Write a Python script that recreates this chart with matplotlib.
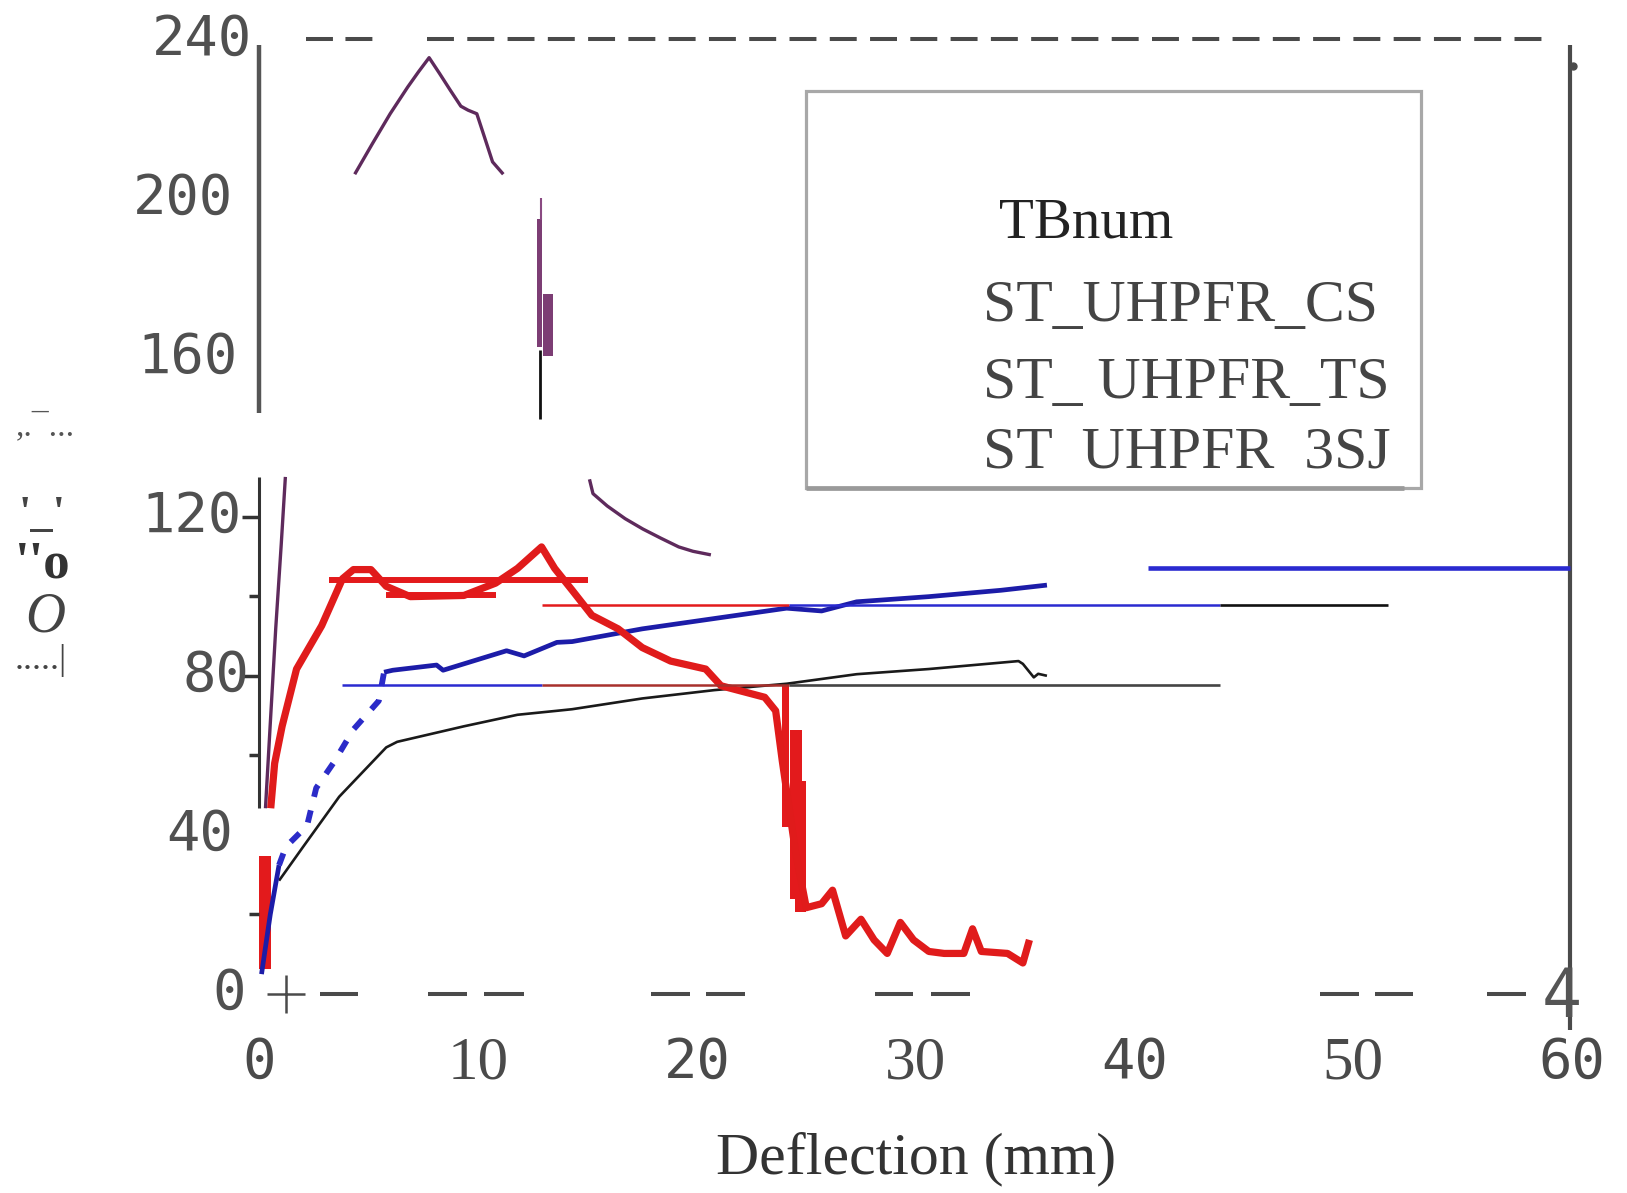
import matplotlib
matplotlib.use("Agg")
import matplotlib.pyplot as plt
import numpy as np
from matplotlib.patches import Rectangle

plt.rcParams["lines.scale_dashes"] = False
plt.rcParams["lines.solid_capstyle"] = "butt"

# ---- data (deflection mm, load kN) ----
red_x = [0.52, 0.7, 1.04, 1.7, 2.85, 3.8, 4.3, 5.1, 5.8, 6.9, 9.35, 10.8, 11.8, 12.9, 13.5,
         14.3, 15.2, 16.4, 17.5, 18.8, 20.4, 21.1, 23.1, 23.6, 23.9, 24.5, 25.0, 25.7, 26.2,
         26.8, 27.5, 28.1, 28.7, 29.3, 29.9, 30.6, 31.3, 32.2, 32.6, 33.0, 34.2, 34.9, 35.2]
red_y = [46.7, 58, 67.3, 81.7, 92.6, 104.4, 106.7, 106.7, 102.5, 99.9, 100.2, 103.3, 107, 112.4, 107,
         101.5, 95.2, 91.8, 87.1, 83.7, 81.7, 77.5, 74.6, 71.2, 58.7, 36, 21.7, 22.7, 26.1,
         14.6, 18.8, 13.6, 10.2, 18, 13.6, 10.7, 10.2, 10.2, 16.4, 10.7, 10.2, 7.8, 13.6]

blue_x = [0.1, 0.5, 0.9, np.nan, 5.7, 6.1, 8.1, 8.4, 11.3, 12.1, 13.6, 14.3, 17.5, 20.8,
          24.1, 25.7, 27.3, 30.6, 33.9, 36.0]
blue_y = [5, 20, 32.4, np.nan, 80.9, 81.4, 82.7, 81.4, 86.3, 85.0, 88.4, 88.6, 91.8, 94.4,
          97.0, 96.3, 98.6, 99.9, 101.5, 102.8]
blue_dash_x = [0.9, 1.21, 2.18, 2.6, 3.4, 4.3, 5.46, 5.7]
blue_dash_y = [32.4, 37, 42.3, 51.8, 58.2, 66.5, 73.7, 80.9]

black_x = [0.9, 2.0, 3.65, 5.8, 6.3, 9.35, 11.8, 13.6, 14.3, 17.5, 20.8, 24.1, 27.3, 30.6,
           34.7, 34.9, 35.4, 35.6, 36.0]
black_y = [28.5, 37, 49.6, 62, 63.4, 67.3, 70.2, 71.2, 71.6, 74.3, 76.4, 78.0, 80.4, 81.7,
           83.7, 83.0, 79.6, 80.5, 80.0]

purple_x = [0.28, 0.5, 0.75, 1.0, 1.19, np.nan,
            4.36, 5.17, 5.98, 6.78, 7.27, 7.76, 8.24, 8.73, 9.21, 9.54, 9.94, 10.34, 10.66, 11.15,
            np.nan, 15.09, 15.25, 15.9, 16.72, 17.53, 18.35, 19.17, 19.82, 20.64]
purple_y = [46.7, 68, 92, 113, 130, np.nan,
            206.1, 213.8, 221.3, 228.0, 231.8, 235.4, 231.4, 227.2, 223.2, 222.2, 221.3, 214.6, 209.2, 206.1,
            np.nan, 129.4, 125.8, 122.7, 119.5, 116.9, 114.6, 112.4, 111.3, 110.4]

# horizontal reference segments: (y, x0, x1, colour, lw)
hseg_y = [104.1, 100.2, 97.8, 97.8, 97.8, 77.7, 77.7, 77.7, 107.2]
hseg_x0 = [3.2, 5.8, 12.9, 24.2, 43.9, 3.8, 12.9, 24.2, 40.6]
hseg_x1 = [15.0, 10.8, 24.2, 43.9, 51.6, 12.9, 24.2, 43.9, 59.9]
hseg_c = ["#e31a1c", "#e31a1c", "#e31a1c", "#2a2ad0", "#111111", "#2a2ad0", "#a8302c", "#444444", "#2a2ad0"]
hseg_lw = [4.3, 4.3, 1.8, 1.8, 1.9, 1.8, 1.8, 1.9, 3.3]

# vertical bar fragments
redbar_x0 = [23.9, 24.25, 24.5, 0.0]
redbar_x1 = [24.2, 24.8, 25.0, 0.52]
redbar_lo = [42.0, 24.0, 20.6, 6.3]
redbar_hi = [78.3, 66.3, 53.5, 34.7]
purbar_x0 = [12.69, 12.97]
purbar_x1 = [12.92, 13.42]
purbar_lo = [162.7, 160.4]
purbar_hi = [194.9, 176.0]

# bottom dashes on the zero line
bot_x0 = [2.75, 7.73, 10.29, 17.88, 20.4, 28.13, 30.69, 48.48, 50.99, 56.12]
bot_x1 = [4.51, 9.49, 12.1, 19.69, 22.2, 29.88, 32.5, 50.28, 52.75, 57.88]

yticks = [240, 200, 160, 120, 80, 40, 0]
ytick_pad = [5, 18.7, 15.8, 13, 7.2, 18.7, 10]
xticks = [0, 10, 20, 30, 40, 50, 60]
legend_labels = ["ST_UHPFR_CS", "ST_ UHPFR_TS", "ST  UHPFR  3SJ"]

fig = plt.figure(figsize=(16.27, 11.93), dpi=100)
fig.patch.set_facecolor("white")
ax = fig.add_axes([0.1594, 0.1668, 0.8068, 0.8002])
ax.set_xlim(0, 60); ax.set_ylim(0, 240)
ax.patch.set_visible(False)
for s in ax.spines.values():
    s.set_visible(False)

GREY = "#4a4a4a"
# frame pieces
ax.plot([2.13, 5.22], [240, 240], color=GREY, lw=2.9, ls=(0, (19.4, 9.0)), clip_on=False)
ax.plot([7.67, 58.9], [240, 240], color=GREY, lw=2.9, ls=(0, (19.4, 9.6)), clip_on=False)
ax.plot([59.9, 59.9], [238.5, -9], color=GREY, lw=3.0, clip_on=False)
ax.plot([60.06], [233.3], "o", color=GREY, ms=5, clip_on=False)
ax.plot([0, 0], [238.5, 146], color="#555555", lw=3.2, clip_on=False)
ax.plot([0, 0], [130, 46.7], color="#333333", lw=2.2, clip_on=False)
ax.hlines([0] * len(bot_x0), bot_x0, bot_x1, color=GREY, lw=2.9, clip_on=False)
ax.plot([1.2], [0], marker="+", color=GREY, ms=28, mew=1.8, clip_on=False)
ax.text(59.55, -1, "4", family="DejaVu Sans Mono", fontsize=48, color="#555555",
        ha="center", va="center", clip_on=False)

# curves
ax.plot(purple_x, purple_y, color="#5e2a5c", lw=2.4, clip_on=False)
ax.plot(black_x, black_y, color="#1a1a1a", lw=1.9, clip_on=False)
ax.plot(blue_x, blue_y, color="#1c1ca8", lw=3.4, clip_on=False)
ax.plot(blue_dash_x, blue_dash_y, color="#2b2bc8", lw=4.2, ls=(0, (9, 10)), clip_on=False)
ax.plot(red_x, red_y, color="#e01b1b", lw=5.2, clip_on=False, solid_joinstyle="round")
for y, a, b, c, w in zip(hseg_y, hseg_x0, hseg_x1, hseg_c, hseg_lw):
    ax.plot([a, b], [y, y], color=c, lw=w, clip_on=False)
for a, b, lo, hi in zip(redbar_x0, redbar_x1, redbar_lo, redbar_hi):
    ax.bar(a, hi - lo, width=b - a, bottom=lo, align="edge", color="#e31a1c", lw=0)
for a, b, lo, hi in zip(purbar_x0, purbar_x1, purbar_lo, purbar_hi):
    ax.bar(a, hi - lo, width=b - a, bottom=lo, align="edge", color="#7c3d74", lw=0)
ax.plot([12.87, 12.87], [194.6, 200.1], color="#8a4a82", lw=1.5)
ax.plot([12.85, 12.85], [144.6, 161.9], color="#111111", lw=2.0)

# y ticks (marks only on lower part) and labels
ax.set_yticks([80, 120]); ax.set_yticks([20, 60, 100], minor=True)
ax.tick_params(axis="y", which="major", length=12, width=2.5, color="#333333", labelleft=False)
ax.tick_params(axis="y", which="minor", length=7, width=2.5, color="#333333", labelleft=False)
for v, p in zip(yticks, ytick_pad):
    ax.annotate(str(v), xy=(0, v), xytext=(-p, 0), textcoords="offset points",
                ha="right", va="center", family="DejaVu Sans Mono", fontsize=40,
                color="#505050", annotation_clip=False)

# x ticks
ax.set_xticks(xticks, [str(v) for v in xticks])
ax.tick_params(axis="x", length=0, pad=30)
for v, lbl in zip(xticks, ax.get_xticklabels()):
    if v in (10, 30, 50):
        lbl.set_fontfamily("Liberation Serif"); lbl.set_fontsize(44)
    else:
        lbl.set_fontfamily("DejaVu Sans Mono"); lbl.set_fontsize(40)
    lbl.set_color("#4a4a4a")

ax.set_xlabel("Deflection (mm)", family="Liberation Serif", fontsize=43, color="#333333")
ax.xaxis.set_label_coords(0.5, -0.173)
ax.xaxis.label.set_va("center")

# legend box
ax.add_patch(Rectangle((25.0, 127.3), 28.1, 99.7, fill=False, ec="#a8a8a8", lw=2.3, clip_on=False))
ax.plot([25.0, 52.3], [127.3, 127.3], color="#9a9a9a", lw=3.4, clip_on=False)
ax.text(33.8, 193.8, "TBnum", family="Liberation Serif", fontsize=41, color="#222222",
        ha="left", va="center")
for lab, y in zip(legend_labels, [172.7, 153.4, 135.9]):
    ax.text(33.1, y, lab, family="Liberation Serif", fontsize=43, color="#444444",
            ha="left", va="center")

# fragments of the y-axis title
fig.text(0.0098, 0.642, ",.\u00af...", family="Liberation Serif", fontsize=24, color="#555555", va="center")
fig.text(0.026, 0.568, "'_'", family="Liberation Serif", fontsize=32, weight="bold", color="#444444",
         ha="center", va="center")
fig.text(0.026, 0.527, "''o", family="Liberation Serif", fontsize=38, weight="bold", color="#333333",
         ha="center", va="center")
fig.text(0.028, 0.482, "O", family="Liberation Serif", fontsize=40, style="italic", color="#444444",
         ha="center", va="center")
fig.text(0.0092, 0.446, ".....|", family="Liberation Serif", fontsize=26, color="#444444", va="center")

fig.savefig("out.png", dpi=100, facecolor="white")
